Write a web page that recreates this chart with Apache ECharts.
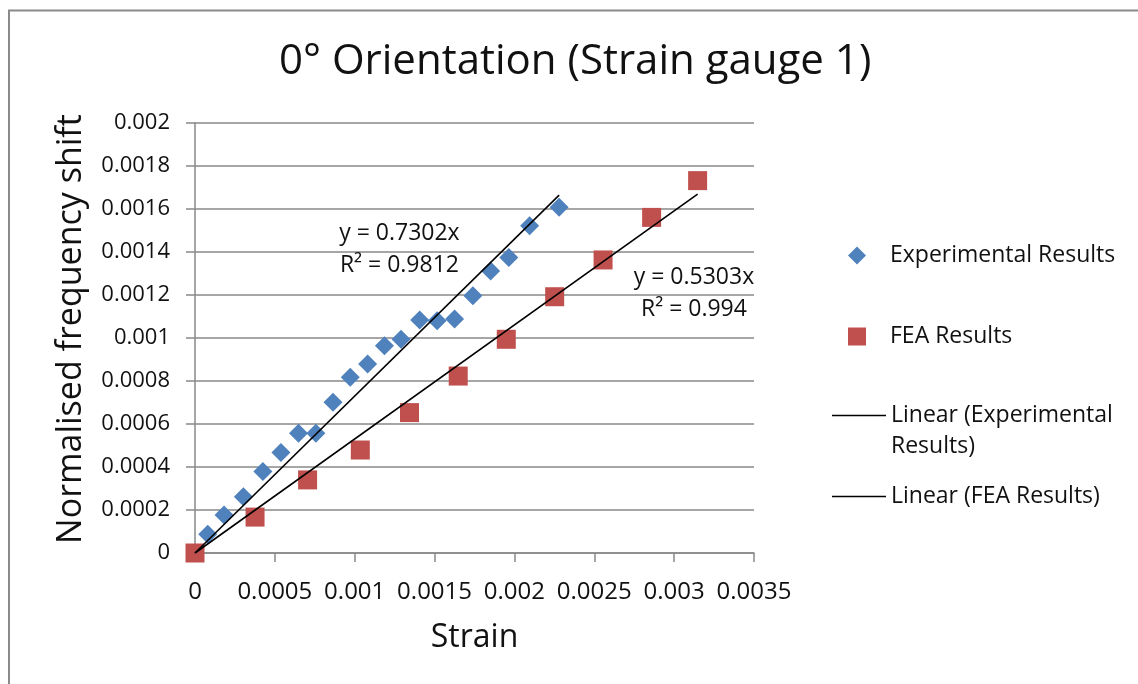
<!DOCTYPE html>
<html>
<head>
<meta charset="utf-8">
<title>0° Orientation (Strain gauge 1)</title>
<script src="https://cdn.jsdelivr.net/npm/echarts@6/dist/echarts.min.js"></script>
<style>
  html, body { margin: 0; padding: 0; background: #fff; }
  #chart { width: 1138px; height: 684px; }
</style>
</head>
<body>
<div id="chart"></div>
<script>
// Measured strain vs normalised frequency shift
const expStrain = [0.000080, 0.000182, 0.000303, 0.000425, 0.000538, 0.000648, 0.000757, 0.000864, 0.000972, 0.001081,
                   0.001186, 0.001290, 0.001407, 0.001516, 0.001625, 0.001740, 0.001851, 0.001965, 0.002095, 0.002280];
const expShift  = [0.000087, 0.000177, 0.000262, 0.000379, 0.000467, 0.000557, 0.000557, 0.000701, 0.000817, 0.000879,
                   0.000964, 0.000994, 0.001084, 0.001080, 0.001088, 0.001197, 0.001312, 0.001375, 0.001522, 0.001608];

// Finite element predictions
const feaStrain = [0, 0.000376, 0.000705, 0.001035, 0.001343, 0.001648, 0.001949, 0.002252, 0.002555, 0.002859, 0.003147];
const feaShift  = [0, 0.000167, 0.000340, 0.000479, 0.000653, 0.000823, 0.000994, 0.001192, 0.001363, 0.001561, 0.001732];

// Linear fits through the origin
const expSlope = 0.7302, expR2 = 0.9812;
const feaSlope = 0.5303, feaR2 = 0.994;

const xTicks = [0, 0.0005, 0.001, 0.0015, 0.002, 0.0025, 0.003, 0.0035];
const yTicks = [0, 0.0002, 0.0004, 0.0006, 0.0008, 0.001, 0.0012, 0.0014, 0.0016, 0.0018, 0.002];

const TITLE = '0° Orientation (Strain gauge 1)';
const FONT = 'Open Sans';
const GRID_GRAY = '#898989';
const TEXT = '#111';

const pairs = (xs, ys) => xs.map((x, i) => [x, ys[i]]);
const fitLine = (xs, k) => { const m = Math.max(...xs); return [[0, 0], [m, k * m]]; };
const tickFmt = v => String(+v.toFixed(4));

// centre the title on x = 575
const TITLE_SIZE = 42;
const measureCtx = document.createElement('canvas').getContext('2d');
measureCtx.font = TITLE_SIZE + 'px "' + FONT + '"';
const titleWidth = measureCtx.measureText(TITLE).width;

const chart = echarts.init(document.getElementById('chart'), null, { renderer: 'canvas' });

const legendText = { fontFamily: FONT, fontSize: 23, color: TEXT, lineHeight: 31 };
const markerLegend = (top, name, icon) => ({
  orient: 'vertical', left: 843, top: top,
  itemWidth: 18, itemHeight: 18, selectedMode: false,
  data: [{ name: name, icon: icon }],
  formatter: n => '{t|' + n + '}',
  textStyle: Object.assign({}, legendText, { rich: { t: { fontFamily: FONT, fontSize: 23, color: TEXT, padding: [0, 0, 0, 19] } } })
});
const lineLegend = (top, name, text) => ({
  orient: 'vertical', left: 827, top: top,
  itemWidth: 54, itemHeight: 1.6, selectedMode: false,
  data: [{ name: name, icon: 'rect', itemStyle: { color: '#000' } }],
  formatter: () => text,
  textStyle: legendText
});

chart.setOption({
  backgroundColor: '#fff',
  animation: false,
  title: {
    text: TITLE,
    left: Math.round(575 - titleWidth / 2),
    top: 36,
    padding: 0,
    textStyle: { fontFamily: FONT, fontSize: TITLE_SIZE, fontWeight: 'normal', color: TEXT, lineHeight: 52 }
  },
  graphic: [{
    type: 'rect',
    shape: { x: 9, y: 10.5, width: 1200, height: 800 },
    style: { fill: 'none', stroke: '#8a8a8a', lineWidth: 2 },
    silent: true, z: -10
  }],
  legend: [
    markerLegend(235, 'Experimental Results', 'diamond'),
    markerLegend(316, 'FEA Results', 'rect'),
    // blank first row keeps the first text row level with the key line
    lineLegend(364, 'Linear (Experimental Results)', ' \nLinear (Experimental\nResults)'),
    lineLegend(476, 'Linear (FEA Results)', 'Linear (FEA Results)')
  ],
  grid: { left: 195, right: 384, top: 123, bottom: 131, containLabel: false },
  xAxis: {
    type: 'value',
    min: xTicks[0],
    max: xTicks[xTicks.length - 1],
    interval: xTicks[1] - xTicks[0],
    name: 'Strain',
    nameLocation: 'middle',
    nameGap: 69,
    nameTextStyle: { fontFamily: FONT, fontSize: 32, color: TEXT },
    axisLine: { show: true, onZero: false, lineStyle: { color: GRID_GRAY, width: 1.5 } },
    axisTick: { show: true, inside: false, length: 9, lineStyle: { color: GRID_GRAY, width: 1.5 } },
    axisLabel: { formatter: tickFmt, margin: 27, fontFamily: FONT, fontSize: 24, color: TEXT },
    splitLine: { show: false }
  },
  yAxis: {
    type: 'value',
    min: yTicks[0],
    max: yTicks[yTicks.length - 1],
    interval: yTicks[1] - yTicks[0],
    name: 'Normalised frequency shift',
    nameLocation: 'middle',
    nameGap: 107,
    nameTextStyle: { fontFamily: FONT, fontSize: 34, color: TEXT, padding: [0, 0, 0, 18] },
    axisLine: { show: true, onZero: false, lineStyle: { color: GRID_GRAY, width: 1.5 } },
    axisTick: { show: true, inside: false, length: 9, lineStyle: { color: GRID_GRAY, width: 1.5 } },
    axisLabel: { formatter: tickFmt, margin: 25, fontFamily: FONT, fontSize: 22, color: TEXT },
    splitLine: { show: true, lineStyle: { color: GRID_GRAY, width: 1.5 } }
  },
  series: [
    {
      name: 'Experimental Results',
      type: 'scatter',
      symbol: 'diamond',
      symbolSize: 19,
      itemStyle: { color: '#4F81BD', opacity: 1 },
      data: pairs(expStrain, expShift),
      z: 3
    },
    {
      name: 'FEA Results',
      type: 'scatter',
      symbol: 'rect',
      symbolSize: 19,
      itemStyle: { color: '#C0504D', opacity: 1 },
      data: pairs(feaStrain, feaShift),
      z: 2
    },
    {
      name: 'Linear (Experimental Results)',
      type: 'line',
      symbol: 'none',
      lineStyle: { color: '#000', width: 1.6 },
      itemStyle: { color: '#000' },
      data: fitLine(expStrain, expSlope),
      z: 4,
      markPoint: {
        symbol: 'circle', symbolSize: 0,
        data: [{ coord: [0.00128, 0.001412] }],
        label: {
          show: true, position: 'inside',
          formatter: 'y = ' + expSlope.toFixed(4) + 'x\nR² = ' + expR2,
          fontFamily: FONT, fontSize: 23, color: TEXT, lineHeight: 32, align: 'center'
        }
      }
    },
    {
      name: 'Linear (FEA Results)',
      type: 'line',
      symbol: 'none',
      lineStyle: { color: '#000', width: 1.6 },
      itemStyle: { color: '#000' },
      data: fitLine(feaStrain, feaSlope),
      z: 4,
      markPoint: {
        symbol: 'circle', symbolSize: 0,
        data: [{ coord: [0.003124, 0.001205] }],
        label: {
          show: true, position: 'inside',
          formatter: 'y = ' + feaSlope.toFixed(4) + 'x\nR² = ' + feaR2,
          fontFamily: FONT, fontSize: 23, color: TEXT, lineHeight: 32, align: 'center'
        }
      }
    }
  ]
});
</script>
</body>
</html>
